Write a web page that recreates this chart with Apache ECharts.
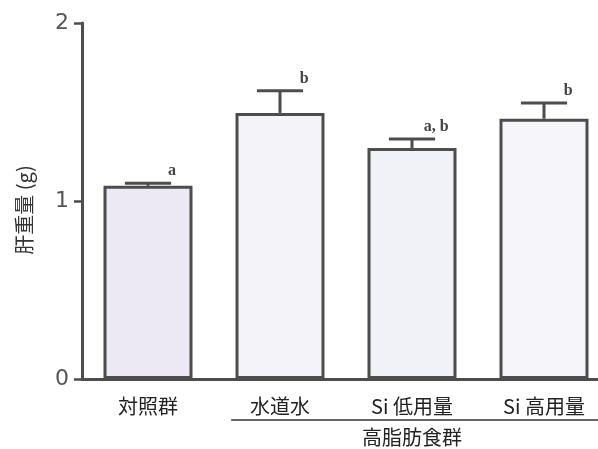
<!DOCTYPE html>
<html><head><meta charset="utf-8">
<script src="https://cdn.jsdelivr.net/npm/echarts@6/dist/echarts.min.js"></script>
<style>html,body{margin:0;padding:0;background:#fff}#c{width:598px;height:449px}</style>
</head><body><div id="c"></div>
<script>
// Liver weight (g) by diet group, mean with error bar and significance letters
const categories = ['対照群', '水道水', 'Si 低用量', 'Si 高用量'];
const liverWeight = [1.085, 1.495, 1.298, 1.462];
const errorBar = [0.015, 0.125, 0.05, 0.088];
const sigLetters = ['a', 'b', 'a, b', 'b'];
const barFills = ['#ece9f4', '#f3f3f9', '#f1f1f8', '#f5f5fa'];
const yTicks = [0, 1, 2];
const groupLabel = '高脂肪食群';
const yAxisName = '肝重量 (g)';

const cjk = '"Noto Sans CJK JP", "Noto Sans", sans-serif';
const ink = '#4d4d4d';

const chart = echarts.init(document.getElementById('c'));

const option = {
  backgroundColor: '#ffffff',
  animation: false,
  grid: { left: 82, width: 528, top: 23, bottom: 70, outerBoundsMode: 'none', containLabel: false },
  xAxis: {
    type: 'category',
    data: categories,
    axisLine: { show: true, lineStyle: { color: ink, width: 3 } },
    axisTick: { show: false },
    axisLabel: { fontFamily: cjk, fontSize: 20, color: '#222', margin: 17 }
  },
  yAxis: {
    type: 'value',
    min: yTicks[0],
    max: yTicks[yTicks.length - 1],
    interval: 1,
    name: yAxisName,
    nameLocation: 'middle',
    nameRotate: 90,
    nameGap: 48,
    nameTextStyle: { fontFamily: cjk, fontSize: 20, color: '#333', padding: [0, 18, 0, 0] },
    axisLine: { show: true, lineStyle: { color: ink, width: 3 } },
    axisTick: { show: true, length: 8, lineStyle: { color: ink, width: 2.5 } },
    axisLabel: { fontFamily: '"DejaVu Sans", sans-serif', fontSize: 22, color: '#555', margin: 13 },
    splitLine: { show: false }
  },
  series: [
    {
      type: 'bar',
      barWidth: 89,
      data: liverWeight.map((v, i) => ({
        value: v,
        itemStyle: { color: barFills[i] }
      })),
      itemStyle: { borderColor: ink, borderWidth: 3 },
      z: 2
    },
    {
      type: 'custom',
      z: 3,
      data: liverWeight.map((v, i) => [i, v, errorBar[i]]),
      renderItem: function (params, api) {
        const idx = api.value(0);
        const mean = api.value(1);
        const err = api.value(2);
        const base = api.coord([idx, mean]);
        const top = api.coord([idx, mean + err]);
        const half = api.size([1, 0])[0] * 0.175;
        const style = { stroke: ink, lineWidth: 3 };
        return {
          type: 'group',
          children: [
            { type: 'line', shape: { x1: base[0], y1: base[1], x2: top[0], y2: top[1] }, style: style },
            { type: 'line', shape: { x1: top[0] - half, y1: top[1], x2: top[0] + half, y2: top[1] }, style: style },
            {
              type: 'text',
              style: {
                x: top[0] + half + 1,
                y: top[1] - 4,
                text: sigLetters[idx],
                align: 'center',
                verticalAlign: 'bottom',
                fontFamily: '"Liberation Serif", serif',
                fontSize: 16,
                fontWeight: 'bold',
                fill: '#444'
              }
            }
          ]
        };
      }
    }
  ]
};

chart.setOption(option);

// Bracket line and label for the high-fat diet groups (categories 1..3)
const firstX = chart.convertToPixel({ xAxisIndex: 0 }, 1);
const lastX = chart.convertToPixel({ xAxisIndex: 0 }, 3);
const step = chart.convertToPixel({ xAxisIndex: 0 }, 2) - firstX;
const axisY = chart.convertToPixel({ yAxisIndex: 0 }, 0);
chart.setOption({
  graphic: [
    {
      type: 'line',
      shape: { x1: firstX - step * 0.37, y1: axisY + 41, x2: chart.getWidth(), y2: axisY + 41 },
      style: { stroke: '#333', lineWidth: 1.5 }
    },
    {
      type: 'text',
      x: (firstX + lastX) / 2,
      y: axisY + 58,
      style: {
        text: groupLabel,
        align: 'center',
        verticalAlign: 'middle',
        fontFamily: cjk,
        fontSize: 20,
        fill: '#222'
      }
    }
  ]
});
</script>
</body></html>
